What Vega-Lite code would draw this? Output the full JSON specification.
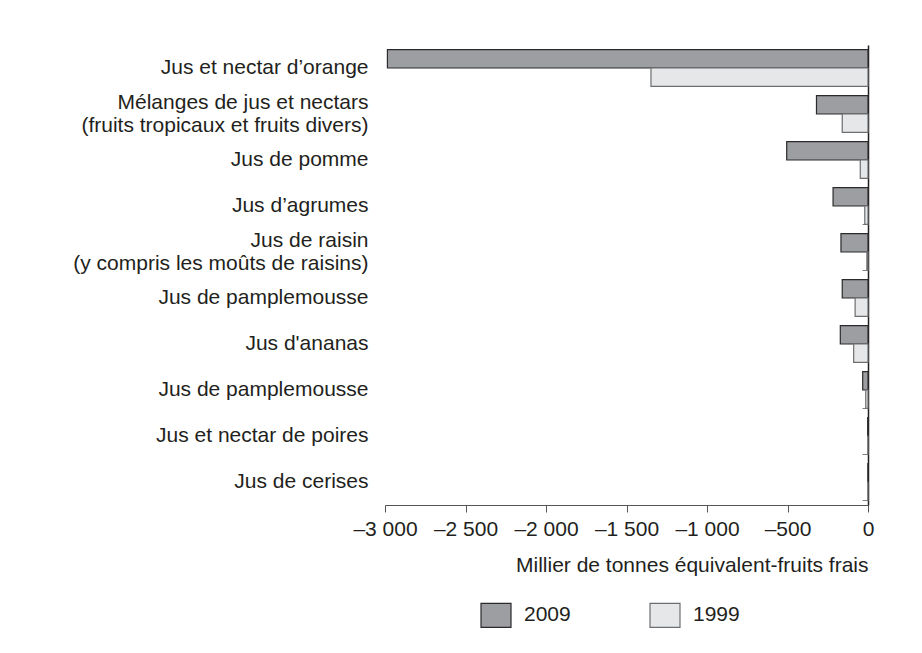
{
  "$schema": "https://vega.github.io/schema/vega-lite/v6.json",
  "autosize": "none",
  "width": 483,
  "height": 460,
  "padding": {"left": 385, "top": 45, "right": 54, "bottom": 148},
  "background": "white",
  "config": {
    "view": {"stroke": null},
    "font": "Liberation Sans",
    "axis": {"grid": false, "labelFont": "Liberation Sans", "titleFont": "Liberation Sans", "labelColor": "#231f20", "titleColor": "#231f20"}
  },
  "data": {
    "values": [
      {"cat": "a|Jus et nectar d’orange", "year": "2009", "value": -2985},
      {"cat": "a|Jus et nectar d’orange", "year": "1999", "value": -1348},
      {"cat": "b|Mélanges de jus et nectars|(fruits tropicaux et fruits divers)", "year": "2009", "value": -320},
      {"cat": "b|Mélanges de jus et nectars|(fruits tropicaux et fruits divers)", "year": "1999", "value": -160},
      {"cat": "c|Jus de pomme", "year": "2009", "value": -505},
      {"cat": "c|Jus de pomme", "year": "1999", "value": -48},
      {"cat": "d|Jus d’agrumes", "year": "2009", "value": -217},
      {"cat": "d|Jus d’agrumes", "year": "1999", "value": -20},
      {"cat": "e|Jus de raisin|(y compris les moûts de raisins)", "year": "2009", "value": -168},
      {"cat": "e|Jus de raisin|(y compris les moûts de raisins)", "year": "1999", "value": -7},
      {"cat": "f|Jus de pamplemousse", "year": "2009", "value": -160},
      {"cat": "f|Jus de pamplemousse", "year": "1999", "value": -80},
      {"cat": "g|Jus d'ananas", "year": "2009", "value": -172},
      {"cat": "g|Jus d'ananas", "year": "1999", "value": -89},
      {"cat": "h|Jus de pamplemousse", "year": "2009", "value": -33},
      {"cat": "h|Jus de pamplemousse", "year": "1999", "value": -14},
      {"cat": "i|Jus et nectar de poires", "year": "2009", "value": -2},
      {"cat": "i|Jus et nectar de poires", "year": "1999", "value": -1},
      {"cat": "j|Jus de cerises", "year": "2009", "value": -1},
      {"cat": "j|Jus de cerises", "year": "1999", "value": -1}
    ]
  },
  "resolve": {"axis": {"y": "independent"}},
  "layer": [
    {
      "mark": {"type": "bar", "strokeWidth": 1.2},
      "encoding": {
        "y": {
          "field": "cat", "type": "nominal", "sort": null,
          "scale": {"paddingInner": 0.2, "paddingOuter": 0.1},
          "axis": {
            "orient": "left", "title": null, "domain": false, "ticks": false,
            "labelFontSize": 21, "labelLineHeight": 23, "labelPadding": 17,
            "labelLimit": 0, "labelOverlap": false,
            "labelOffset": {"condition": {"test": "length(split(datum.label, '|')) > 2", "value": -11.5}, "value": 0},
            "labelExpr": "slice(split(datum.label, '|'), 1)"
          }
        },
        "yOffset": {"field": "year", "type": "nominal", "sort": ["2009", "1999"]},
        "x": {
          "field": "value", "type": "quantitative",
          "scale": {"domain": [-3000, 0], "nice": false},
          "axis": {
            "values": [-3000, -2500, -2000, -1500, -1000, -500, 0],
            "title": "Millier de tonnes équivalent-fruits frais",
            "titleFontSize": 21, "titleFontWeight": "normal",
            "titleAnchor": "end", "titleAlign": "right", "titlePadding": 15,
            "labelFontSize": 21, "labelPadding": 6, "labelOverlap": false, "labelFlush": false,
            "tickSize": 7, "tickColor": "#555", "domainColor": "#555",
            "labelExpr": "(datum.value < 0 ? '–' : '') + replace(format(abs(datum.value), ','), ',', ' ')"
          }
        },
        "fill": {
          "field": "year", "type": "nominal",
          "scale": {"domain": ["2009", "1999"], "range": ["#9d9ea2", "#e6e7e8"]},
          "legend": {
            "orient": "none", "legendX": 98, "legendY": 557, "direction": "horizontal",
            "title": null, "labelFontSize": 21, "labelColor": "#231f20",
            "symbolType": "M-1.25,-1H1.25V1H-1.25Z", "symbolSize": 576,
            "symbolStrokeWidth": 1.2, "labelOffset": 15, "columnPadding": 76
          }
        },
        "stroke": {
          "field": "year", "type": "nominal",
          "scale": {"domain": ["2009", "1999"], "range": ["#2b2b2b", "#6d6e70"]},
          "legend": null
        }
      }
    },
    {
      "mark": {"type": "point", "opacity": 0},
      "encoding": {
        "y": {
          "field": "cat", "type": "nominal", "sort": null,
          "axis": {
            "orient": "right", "title": null, "labels": false,
            "tickBand": "extent", "tickSize": -6, "tickColor": "#808080",
            "domainColor": "#231f20", "domainWidth": 1.5
          }
        },
        "x": {"field": "value", "type": "quantitative"}
      }
    }
  ]
}
